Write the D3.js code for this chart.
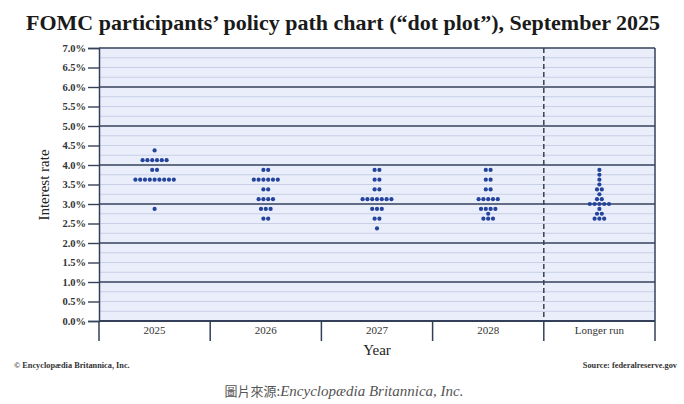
<!DOCTYPE html>
<html>
<head>
<meta charset="utf-8">
<script src="https://cdn.jsdelivr.net/npm/d3@7"></script>
<style>
  body { margin: 0; background: #fff; }
  svg text { font-family: "Liberation Serif", "DejaVu Serif", serif; }
</style>
</head>
<body>
<div id="chart"></div>
<script>
/**
 * data: [rate in %, number of dots]
 */
const categories = ["2025", "2026", "2027", "2028", "Longer run"];
const yTicks = [0, 0.5, 1, 1.5, 2, 2.5, 3, 3.5, 4, 4.5, 5, 5.5, 6, 6.5, 7];

const dots2025 = [[4.375, 1], [4.125, 6], [3.875, 2], [3.625, 9], [2.875, 1]];
const dots2026 = [[3.875, 2], [3.625, 6], [3.375, 2], [3.125, 4], [2.875, 3], [2.625, 2]];
const dots2027 = [[3.875, 2], [3.625, 2], [3.375, 2], [3.125, 7], [2.875, 3], [2.625, 2], [2.375, 1]];
const dots2028 = [[3.875, 2], [3.625, 2], [3.375, 2], [3.125, 5], [2.875, 4], [2.75, 1], [2.625, 3]];
const dotsLonger = [[3.875, 1], [3.75, 1], [3.625, 1], [3.5, 1], [3.375, 2], [3.25, 1], [3.125, 2],
                    [3.0, 5], [2.875, 1], [2.75, 2], [2.625, 3]];

const allDots = [dots2025, dots2026, dots2027, dots2028, dotsLonger];

/**
 * constants
 */
const WIDTH = 684;
const HEIGHT = 404;
const MARGIN = { left: 99, right: 29, top: 48, bottom: 83 };
const LINE = "#34405a";
const DOT = "#23439c";
const DOT_GAP = 4.8;

const svg = d3.select("#chart").append("svg")
              .attr("width", WIDTH)
              .attr("height", HEIGHT);

const x = d3.scaleBand()
            .domain(categories)
            .range([MARGIN.left, WIDTH - MARGIN.right]);

const y = d3.scaleLinear()
            .domain([0, 7])
            .range([HEIGHT - MARGIN.bottom, MARGIN.top]);

// title
svg.append("text")
   .attr("x", 343)
   .attr("y", 30)
   .attr("text-anchor", "middle")
   .attr("font-size", "22px")
   .attr("font-weight", "bold")
   .attr("fill", "#1a1a1a")
   .text("FOMC participants\u2019 policy path chart (\u201cdot plot\u201d), September 2025");

// plot background
svg.append("rect")
   .attr("x", MARGIN.left)
   .attr("y", MARGIN.top)
   .attr("width", WIDTH - MARGIN.left - MARGIN.right)
   .attr("height", HEIGHT - MARGIN.top - MARGIN.bottom)
   .attr("fill", "#eaeefb");

// light grid every 0.25%
const fine = d3.range(1, 28).map(d => d * 0.25).filter(d => d % 1 !== 0);
svg.append("g")
   .selectAll("line")
   .data(fine)
   .enter()
   .append("line")
   .attr("x1", MARGIN.left)
   .attr("x2", WIDTH - MARGIN.right)
   .attr("y1", d => y(d))
   .attr("y2", d => y(d))
   .attr("stroke", "#c8cfe6")
   .attr("stroke-width", 1);

// dark grid every 1%
svg.append("g")
   .selectAll("line")
   .data(d3.range(1, 7))
   .enter()
   .append("line")
   .attr("x1", MARGIN.left)
   .attr("x2", WIDTH - MARGIN.right)
   .attr("y1", d => y(d))
   .attr("y2", d => y(d))
   .attr("stroke", LINE)
   .attr("stroke-width", 1.4);

// y axis
const yAxis = svg.append("g")
                 .attr("transform", `translate(${MARGIN.left}, 0)`)
                 .call(d3.axisLeft(y)
                         .tickValues(yTicks)
                         .tickSize(11)
                         .tickPadding(2)
                         .tickFormat(d => d3.format(".1f")(d) + "%"));

yAxis.select(".domain").attr("stroke", LINE).attr("stroke-width", 1.5);
yAxis.selectAll(".tick line").attr("stroke", LINE).attr("stroke-width", 1.4);
yAxis.selectAll(".tick text")
     .attr("font-family", "Liberation Serif")
     .attr("font-weight", "bold")
     .attr("font-size", "10.5px")
     .attr("fill", "#333");

// frame top, right and bottom
svg.append("line")
   .attr("x1", MARGIN.left).attr("x2", WIDTH - MARGIN.right)
   .attr("y1", y(7)).attr("y2", y(7))
   .attr("stroke", LINE).attr("stroke-width", 1.5);

svg.append("line")
   .attr("x1", MARGIN.left).attr("x2", WIDTH - MARGIN.right)
   .attr("y1", y(0)).attr("y2", y(0))
   .attr("stroke", LINE).attr("stroke-width", 2);

svg.append("line")
   .attr("x1", WIDTH - MARGIN.right).attr("x2", WIDTH - MARGIN.right)
   .attr("y1", y(7)).attr("y2", y(0) + 20)
   .attr("stroke", LINE).attr("stroke-width", 1.5);

svg.append("line")
   .attr("x1", MARGIN.left).attr("x2", MARGIN.left)
   .attr("y1", y(0)).attr("y2", y(0) + 20)
   .attr("stroke", LINE).attr("stroke-width", 1.5);

// column dividers below the axis
svg.append("g")
   .selectAll("line")
   .data(categories.slice(1))
   .enter()
   .append("line")
   .attr("x1", d => x(d))
   .attr("x2", d => x(d))
   .attr("y1", y(0))
   .attr("y2", y(0) + 20)
   .attr("stroke", LINE)
   .attr("stroke-width", 1.5);

// dashed divider before longer run
svg.append("line")
   .attr("x1", x("Longer run"))
   .attr("x2", x("Longer run"))
   .attr("y1", y(7))
   .attr("y2", y(0))
   .attr("stroke", LINE)
   .attr("stroke-width", 1.5)
   .attr("stroke-dasharray", "5,3");

// category labels
svg.append("g")
   .selectAll("text")
   .data(categories)
   .enter()
   .append("text")
   .attr("x", d => x(d) + x.bandwidth() / 2)
   .attr("y", y(0) + 13)
   .attr("text-anchor", "middle")
   .attr("font-size", "11px")
   .attr("fill", "#333")
   .text(d => d);

// axis titles
svg.append("text")
   .attr("x", 377)
   .attr("y", 355)
   .attr("text-anchor", "middle")
   .attr("font-size", "15px")
   .attr("fill", "#222")
   .text("Year");

svg.append("text")
   .attr("transform", "rotate(270)")
   .attr("x", -185)
   .attr("y", 49)
   .attr("text-anchor", "middle")
   .attr("font-size", "15px")
   .attr("fill", "#222")
   .text("Interest rate");

// dots
allDots.forEach((col, i) => {
    const cx = x(categories[i]) + x.bandwidth() / 2;
    const pts = [];
    col.forEach(([rate, n]) => {
        for (let k = 0; k < n; k++) {
            pts.push({ rate: rate, off: (k - (n - 1) / 2) * DOT_GAP });
        }
    });
    svg.append("g")
       .selectAll("circle")
       .data(pts)
       .enter()
       .append("circle")
       .attr("cx", d => cx + d.off)
       .attr("cy", d => y(d.rate))
       .attr("r", 2.1)
       .attr("fill", DOT);
});

// footer
svg.append("text")
   .attr("x", 14)
   .attr("y", 368)
   .attr("font-size", "8.3px")
   .attr("font-weight", "bold")
   .attr("fill", "#333")
   .text("\u00a9 Encyclop\u00e6dia Britannica, Inc.");

svg.append("text")
   .attr("x", 677)
   .attr("y", 368)
   .attr("text-anchor", "end")
   .attr("font-size", "8.3px")
   .attr("font-weight", "bold")
   .attr("fill", "#333")
   .text("Source: federalreserve.gov");

const caption = svg.append("text")
                   .attr("x", 344)
                   .attr("y", 396)
                   .attr("text-anchor", "middle")
                   .attr("fill", "#555");

caption.append("tspan")
       .attr("font-family", "Noto Sans CJK TC")
       .attr("font-size", "13px")
       .text("\u5716\u7247\u4f86\u6e90:");

caption.append("tspan")
       .attr("font-family", "Liberation Serif")
       .attr("font-style", "italic")
       .attr("font-size", "15px")
       .text("Encyclop\u00e6dia Britannica, Inc.");
</script>
</body>
</html>
